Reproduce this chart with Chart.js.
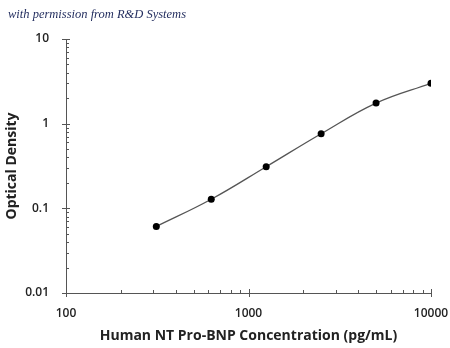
<!DOCTYPE html>
<html>
<head>
<meta charset="utf-8">
<script src="https://cdn.jsdelivr.net/npm/chart.js@4"></script>
<style>
  body { margin: 0; background: #fff; }
  #wrap { position: relative; width: 450px; height: 348px; }
  #credit {
    position: absolute; left: 8px; top: 7px;
    font-family: 'Liberation Serif', serif; font-style: italic;
    font-size: 12.5px; color: #1f2a5c;
  }
</style>
</head>
<body>
<div id="wrap">
  <div id="credit">with permission from R&amp;D Systems</div>
  <canvas id="chart" width="450" height="348"></canvas>
</div>
<script>
// NT Pro-BNP standard curve
const concentrations = [312.5, 625, 1250, 2500, 5000, 10000];
const densities = [0.061, 0.128, 0.31, 0.76, 1.75, 3.0];
const xTicks = [100, 1000, 10000];
const yTicks = [0.01, 0.1, 1, 10];

const points = concentrations.map((c, i) => ({ x: c, y: densities[i] }));

// small tick marks on the log axes, drawn through the scales
const logTicks = {
    id: 'logTicks',
    afterDraw(chart) {
        const ctx = chart.ctx;
        const xs = chart.scales.x, ys = chart.scales.y;
        ctx.save();
        ctx.strokeStyle = '#555';
        ctx.lineWidth = 1;
        ctx.beginPath();
        for (let d = xs.min; d < xs.max; d *= 10) {
            for (let k = 1; k < 10; k++) {
                const px = Math.round(xs.getPixelForValue(d * k)) + 0.5;
                const up = k === 1 ? 4 : 3;
                ctx.moveTo(px, ys.bottom - up);
                ctx.lineTo(px, ys.bottom + (k === 1 ? 4 : 0));
            }
        }
        const lastX = Math.round(xs.getPixelForValue(xs.max)) + 0.5;
        ctx.moveTo(lastX, ys.bottom - 4);
        ctx.lineTo(lastX, ys.bottom + 4);
        for (let d = ys.min; d < ys.max; d *= 10) {
            for (let k = 1; k < 10; k++) {
                const py = Math.round(ys.getPixelForValue(d * k)) + 0.5;
                ctx.moveTo(xs.left - (k === 1 ? 4 : 0), py);
                ctx.lineTo(xs.left + (k === 1 ? 4 : 3), py);
            }
        }
        const topY = Math.round(ys.getPixelForValue(ys.max)) + 0.5;
        ctx.moveTo(xs.left - 4, topY);
        ctx.lineTo(xs.left + 4, topY);
        ctx.stroke();
        ctx.restore();
    }
};

new Chart(document.getElementById('chart'), {
    type: 'scatter',
    data: {
        datasets: [{
            data: points,
            showLine: true,
            tension: 0.4,
            borderColor: '#555',
            borderWidth: 1.3,
            pointRadius: 3.5,
            pointBackgroundColor: '#000',
            pointBorderColor: '#000',
            pointBorderWidth: 0
        }]
    },
    options: {
        responsive: false,
        animation: false,
        layout: { padding: { top: 39, right: 0, left: 0, bottom: 0 } },
        plugins: { legend: { display: false }, tooltip: { enabled: false } },
        scales: {
            x: {
                type: 'logarithmic',
                min: 100,
                max: 10000,
                afterBuildTicks: s => { s.ticks = xTicks.map(v => ({ value: v })); },
                afterFit: s => { s.height = 55; s.paddingRight = 19; },
                grid: { display: false },
                border: { color: '#555', width: 1 },
                ticks: {
                    padding: 5,
                    color: '#222',
                    font: { family: 'Open Sans', size: 12, weight: '600' },
                    callback: v => String(v)
                },
                title: {
                    display: true,
                    text: 'Human NT Pro-BNP Concentration (pg/mL)',
                    color: '#222',
                    font: { family: 'Open Sans', size: 14, weight: '700' },
                    padding: { top: 10 }
                }
            },
            y: {
                type: 'logarithmic',
                min: 0.01,
                max: 10,
                afterBuildTicks: s => { s.ticks = yTicks.map(v => ({ value: v })); },
                afterFit: s => { s.width = 66; },
                grid: { display: false },
                border: { color: '#555', width: 1 },
                ticks: {
                    padding: 9,
                    color: '#222',
                    font: { family: 'Open Sans', size: 12, weight: '600' },
                    callback: v => String(v)
                },
                title: {
                    display: true,
                    text: 'Optical Density',
                    color: '#222',
                    font: { family: 'Open Sans', size: 14, weight: '700' },
                    padding: { bottom: 4 }
                }
            }
        }
    },
    plugins: [logTicks]
});
</script>
</body>
</html>
